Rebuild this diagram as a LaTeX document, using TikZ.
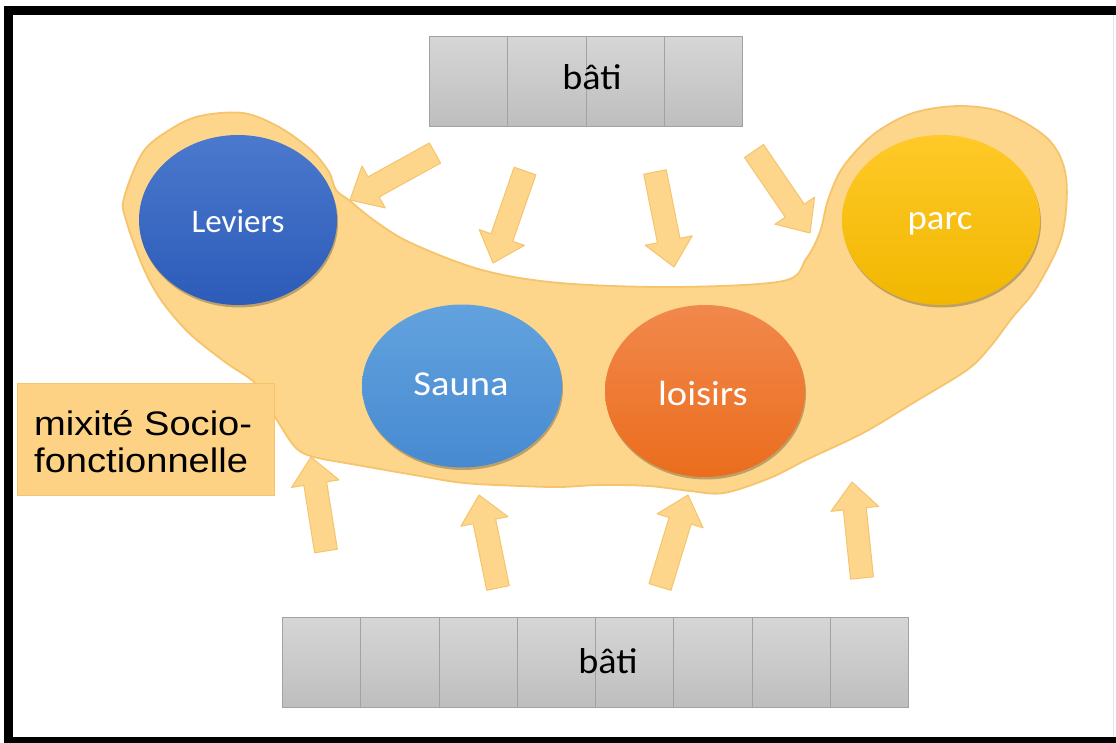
\documentclass[tikz,border=0pt]{standalone}
\usepackage{fontspec}
\setmainfont{Carlito}
\newfontfamily\arialf{Liberation Sans}
\usetikzlibrary{calc,shapes.geometric,shadows}
\definecolor{blobfill}{HTML}{FDD68B}
\definecolor{blobedge}{HTML}{F5C46C}
\definecolor{cellborder}{HTML}{A2A2A2}
\definecolor{celltop}{HTML}{D6D6D6}
\definecolor{cellbot}{HTML}{BEBEBE}
\definecolor{levtop}{HTML}{4B79CD}
\definecolor{levbot}{HTML}{2C5BB9}
\definecolor{sautop}{HTML}{62A2DE}
\definecolor{saubot}{HTML}{478AD1}
\definecolor{loitop}{HTML}{F1884C}
\definecolor{loibot}{HTML}{EB6D1D}
\definecolor{partop}{HTML}{FFC928}
\definecolor{parbot}{HTML}{F1B700}
\definecolor{rightline}{HTML}{E4E4E4}
\tikzset{
  cellbox/.style={draw=cellborder, line width=0.8pt, top color=celltop, bottom color=cellbot,
    minimum width=78.25pt, minimum height=90pt, inner sep=0pt, anchor=north west},
  bubble/.style={ellipse, inner sep=0pt, drop shadow={shadow xshift=1pt, shadow yshift=-2.5pt, opacity=0.25, fill=black}},
  bublabel/.style={text=white, anchor=base, inner sep=0pt, font=\fontsize{35}{40}\selectfont},
  batilabel/.style={text=black, anchor=base, inner sep=0pt, font=\fontsize{36}{40}\selectfont},
  mixlabel/.style={text=black, anchor=base west, inner sep=0pt, font=\arialf\fontsize{34}{37}\selectfont},
  blockarrow/.style={fill=blobfill, draw=blobedge, line width=1pt, line join=round},
}
\newcommand\blockarr[2]{%
  \coordinate (T) at #1; \coordinate (P) at #2;
  \coordinate (H) at ($(P)!27pt!(T)$);
  \filldraw[blockarrow] ($(T)!11.5pt!90:(P)$) -- ($(H)!11.5pt!-90:(T)$) -- ($(H)!24pt!-90:(T)$)
    -- (P) -- ($(H)!24pt!90:(T)$) -- ($(H)!11.5pt!90:(T)$) -- ($(T)!11.5pt!-90:(P)$) -- cycle;}
\begin{document}
\begin{tikzpicture}[x=1pt,y=-1pt]
\useasboundingbox (0,0) rectangle (1116,743);
\fill[white] (0,0) rectangle (1116,743);
% frame: thick black on left, top and bottom, faint line on the right
\fill[black] (4,6) rectangle (1116,15);
\fill[black] (4,6) rectangle (13,743);
\fill[black] (4,737) rectangle (1116,743);
\draw[rightline, line width=1pt] (1113,15) -- (1113,737);

% blob
\filldraw[fill=blobfill, draw=blobedge, line width=1.8pt, line join=round]
  plot[smooth cycle, tension=0.55] coordinates {
  (189,333) (225,362) (255,383) (270,408) (280,425) (296,448) (314,457) (357,465)
  (420,476) (464,483) (520,486) (560,487) (600,485) (649,486) (690,491) (724,493)
  (770,478) (806,460) (863,433) (913,403) (967,370) (990,347) (1012,318) (1037,287)
  (1062,235) (1066,177) (1049,140) (1005,113) (960,106) (913,113) (874,134) (843,167)
  (828,200) (820,232) (806,259) (783,281) (674,287) (560,283) (482,270) (411,243)
  (375,221) (350,201) (336,190) (329,172) (311,150) (279,127) (243,113) (200,116)
  (171,129) (143,152) (124,198) (126,220) (143,267) (161,300)};

% label box
\node[draw=blobedge, fill=blobfill!95!orange, line width=1pt, minimum width=257pt, minimum height=112pt, inner sep=0pt] (mixbox) at (145.5,439) {};
\node[mixlabel] (mix1) at (34,435) {\scalebox{1.12}[1]{mixité Socio-}};
\node[mixlabel] (mix2) at (34,472) {\scalebox{1.12}[1]{fonctionnelle}};

% bubbles
\node[bubble, minimum width=198pt, minimum height=170pt, top color=levtop, bottom color=levbot] (lev) at (238,220) {};
\node[bubble, minimum width=200pt, minimum height=163pt, top color=sautop, bottom color=saubot] (sau) at (462,386) {};
\node[bubble, minimum width=200pt, minimum height=172pt, top color=loitop, bottom color=loibot] (loi) at (705,391) {};
\node[bubble, minimum width=198pt, minimum height=170pt, top color=partop, bottom color=parbot] (par) at (941,220) {};
\node[bublabel, font=\fontsize{33}{40}\selectfont] (levtxt) at (238,233) {Leviers};
\node[bublabel] (sautxt) at (461,395) {\scalebox{1.1}[1]{Sauna}};
\node[bublabel] (loitxt) at (703,405) {\scalebox{1.1}[1]{loisirs}};
\node[bublabel] (partxt) at (940,230) {\scalebox{1.05}[1]{parc}};

% bati rows
\foreach \i in {0,...,3} \node[cellbox] (top\i) at ({429+78.25*\i},36) {};
\foreach \i in {0,...,7} \node[cellbox] (bot\i) at ({282+78.25*\i},617) {};
\node[batilabel] (topbati) at (592,90) {\scalebox{1.06}[1]{bâti}};
\node[batilabel] (botbati) at (608,673) {\scalebox{1.06}[1]{bâti}};

% arrows from top
\blockarr{(435,153)}{(350,200)}
\blockarr{(525,171)}{(493,263)}
\blockarr{(655,172)}{(674,267)}
\blockarr{(754,151)}{(810,233)}
% arrows from bottom
\blockarr{(326,551)}{(311,457)}
\blockarr{(498,588)}{(479,495)}
\blockarr{(660,587)}{(688,495)}
\blockarr{(862,578)}{(852,482)}
\end{tikzpicture}
\end{document}
